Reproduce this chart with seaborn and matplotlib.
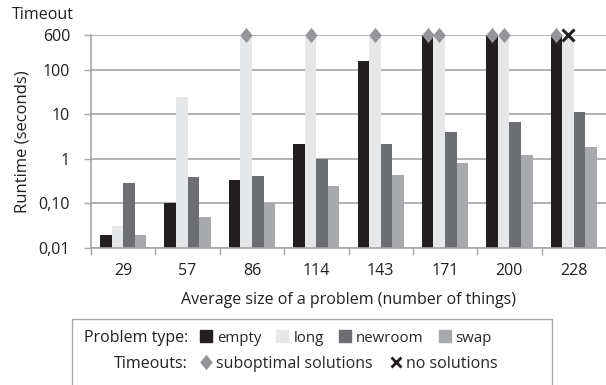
import numpy as np
import pandas as pd
import seaborn as sns
import matplotlib.pyplot as plt
from matplotlib.lines import Line2D
from matplotlib.patches import Rectangle

# runtime in seconds per problem type, 600 = timeout
sizes = ['29', '57', '86', '114', '143', '171', '200', '228']
empty = [0.02, 0.10, 0.34, 2.2, 155, 600, 600, 600]
long_ = [0.031, 24, 600, 600, 600, 600, 600, 600]
newroom = [0.28, 0.39, 0.41, 1.0, 2.2, 4.1, 6.8, 11]
swap = [0.02, 0.05, 0.10, 0.25, 0.44, 0.79, 1.2, 1.8]
types = ['empty', 'long', 'newroom', 'swap']
colors = ['#231f20', '#e6e7e8', '#6d6e71', '#a7a9ac']

# timeouts: (size, problem type)
suboptimal = [('86', 'long'), ('114', 'long'), ('143', 'long'), ('171', 'empty'),
              ('171', 'long'), ('200', 'empty'), ('200', 'long'), ('228', 'empty')]
nosolution = [('228', 'long')]
timeout = 600

yticks = [0.01, 0.1, 1, 10, 100, 600]
yticklabels = ['0,01', '0,10', '1', '10', '100', '600']

df = pd.DataFrame({'size': sizes, 'empty': empty, 'long': long_,
                   'newroom': newroom, 'swap': swap})
df = df.melt(id_vars='size', var_name='type', value_name='runtime')

sns.set_style('white')
plt.rcParams['font.family'] = ['Open Sans', 'DejaVu Sans']
grid_c = '#a6a6a6'
txt_c = '#231f20'
fs = 11.5
diamond = [(0, 1), (0.82, 0), (0, -1), (-0.82, 0), (0, 1)]

fig = plt.figure(figsize=(6.06, 3.85), dpi=100)
ax = fig.add_axes([91/606, 1 - 248/385, 1 - 91/606, (248 - 35)/385])

sns.barplot(data=df, x='size', y='runtime', hue='type', order=sizes, hue_order=types,
            palette=colors, width=0.72, saturation=1, ax=ax, legend=False,
            linewidth=0, log_scale=(False, True))
ax.set_yscale('log')
ax.set_ylim(0.01, 600)
ax.set_xlim(-0.5, 7.46)

# timeout markers on top of bars
for marks, mk, col, ms, mew in [(suboptimal, diamond, '#939598', 11, 0),
                                (nosolution, 'x', txt_c, 8, 2.2)]:
    for s, t in marks:
        bar = ax.containers[types.index(t)][sizes.index(s)]
        ax.plot(bar.get_x() + bar.get_width() / 2, timeout, marker=mk, color=col,
                ms=ms, mew=mew, linestyle='none', clip_on=False, zorder=5)

ax.set_yticks(yticks)
ax.set_yticklabels(yticklabels)
ax.yaxis.set_minor_locator(plt.NullLocator())
ax.grid(axis='y', color=grid_c, linewidth=1.2)
ax.set_axisbelow(True)
ax.tick_params(axis='y', left=True, length=5, width=1, color=grid_c, pad=10,
               labelsize=fs, labelcolor=txt_c)
ax.set_xticks(range(len(sizes)))
ax.set_xticks(np.arange(-0.5, len(sizes), 1), minor=True)
ax.tick_params(axis='x', which='major', length=0, pad=11, labelsize=fs,
               labelcolor=txt_c)
ax.tick_params(axis='x', which='minor', bottom=True, length=5, width=1, color=grid_c)
for side in ['top', 'right']:
    ax.spines[side].set_visible(False)
for side in ['left', 'bottom']:
    ax.spines[side].set_color(grid_c)
    ax.spines[side].set_linewidth(1.2)

ax.set_xlabel('Average size of a problem (number of things)', fontsize=fs,
              color=txt_c, labelpad=9)
ax.set_ylabel('Runtime (seconds)', fontsize=12, color=txt_c, labelpad=6)
fig.text(74/606, 1 - 15/385, 'Timeout', ha='right', va='center', fontsize=fs,
         color=txt_c)

# legend box
fig.add_artist(Rectangle((72/606, -0.1), (552 - 72)/606, 0.1 + (385 - 319)/385,
                         transform=fig.transFigure, fill=False,
                         edgecolor=grid_c, linewidth=1, clip_on=False))
fig.text(188/606, 1 - 338/385, 'Problem type:', ha='right', va='center',
         fontsize=fs, color=txt_c)
fig.text(188/606, 1 - 364/385, 'Timeouts:', ha='right', va='center',
         fontsize=fs, color=txt_c)
h1 = [Line2D([], [], marker='s', color=c, linestyle='none', ms=8) for c in colors]
fig.legend(h1, types, ncol=4, loc='center left', frameon=False,
           bbox_to_anchor=(198/606, 1 - 338/385), borderpad=0, borderaxespad=0,
           handletextpad=0.25, columnspacing=0.9, handlelength=1, fontsize=10.8)
h2 = [Line2D([], [], marker=diamond, color='#939598', linestyle='none', ms=11, mew=0),
      Line2D([], [], marker='x', color=txt_c, linestyle='none', ms=7, mew=2)]
fig.legend(h2, ['suboptimal solutions', 'no solutions'], ncol=2, loc='center left',
           frameon=False, bbox_to_anchor=(198/606, 1 - 364/385), borderpad=0,
           borderaxespad=0, handletextpad=0.1, columnspacing=1.0, handlelength=1,
           fontsize=fs)

fig.savefig('out.png', dpi=100)
